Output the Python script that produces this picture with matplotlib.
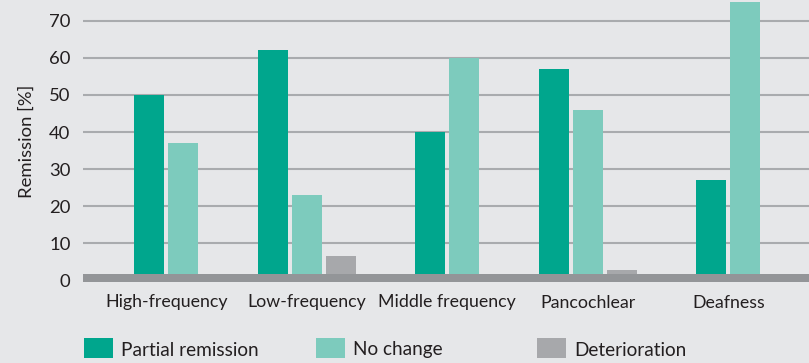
import numpy as np
import matplotlib
matplotlib.use("Agg")
import matplotlib.pyplot as plt
from matplotlib.patches import Rectangle

categories = ["High-frequency", "Low-frequency", "Middle frequency", "Pancochlear", "Deafness"]
partial_remission = [50, 62, 40, 57, 27]
no_change = [37, 23, 60, 46, 75]
deterioration = [0, 6.6, 0, 2.9, 0]

series = [("Partial remission", partial_remission, "#00a68d"),
          ("No change", no_change, "#7dcbbd"),
          ("Deterioration", deterioration, "#a7a8ab")]

BG = "#e6e7e9"
TXT = "#231f20"
FS = 13.3
plt.rcParams["font.family"] = ["Lato", "DejaVu Sans"]

fig = plt.figure(figsize=(8.09, 3.63), dpi=100, facecolor=BG)
ax = fig.add_axes([83 / 809, 1 - 282 / 363, 726 / 809, 282 / 363], facecolor=BG)

slot, first = 140.5, 166.3     # px: category spacing, first category centre
bw, pitch = 30 / slot, 34 / slot
x = np.arange(len(categories))

# only the bars that exist in a group are centred under its label
for i in x:
    present = [(vals[i], c) for _, vals, c in series if vals[i] > 0]
    n = len(present)
    for k, (v, c) in enumerate(present):
        ax.bar(i + (k - (n - 1) / 2) * pitch, v, width=bw, color=c, zorder=2)

ax.axhspan(-0.4, 1.8, color="#939598", zorder=3, lw=0)
for yv in range(10, 80, 10):
    ax.axhline(yv, color="#a9abae", lw=1.5, zorder=1)

ax.set_xlim((83 - first) / slot, (809 - first) / slot)
ax.set_ylim(-0.4, 75.6)
ax.set_yticks(range(0, 80, 10))
ax.set_xticks(x)
ax.set_xticklabels(categories, fontsize=12.8)
ax.tick_params(axis="y", length=0, labelsize=FS, colors=TXT, pad=9)
ax.tick_params(axis="x", length=0, colors=TXT, pad=9)
for s in ax.spines.values():
    s.set_visible(False)
ax.set_ylabel("Remission [%]", fontsize=FS, color=TXT, labelpad=10)

# legend row along the bottom
for (name, _, c), px in zip(series, [84, 316, 537]):
    fig.add_artist(Rectangle((px / 809, 1 - 358 / 363), 29 / 809, 20 / 363,
                             transform=fig.transFigure, color=c, lw=0))
    fig.text((px + 37) / 809, 1 - 350 / 363, name, fontsize=FS + 0.4, color=TXT,
             va="center", ha="left")

fig.savefig("out.png", dpi=100, facecolor=BG)
